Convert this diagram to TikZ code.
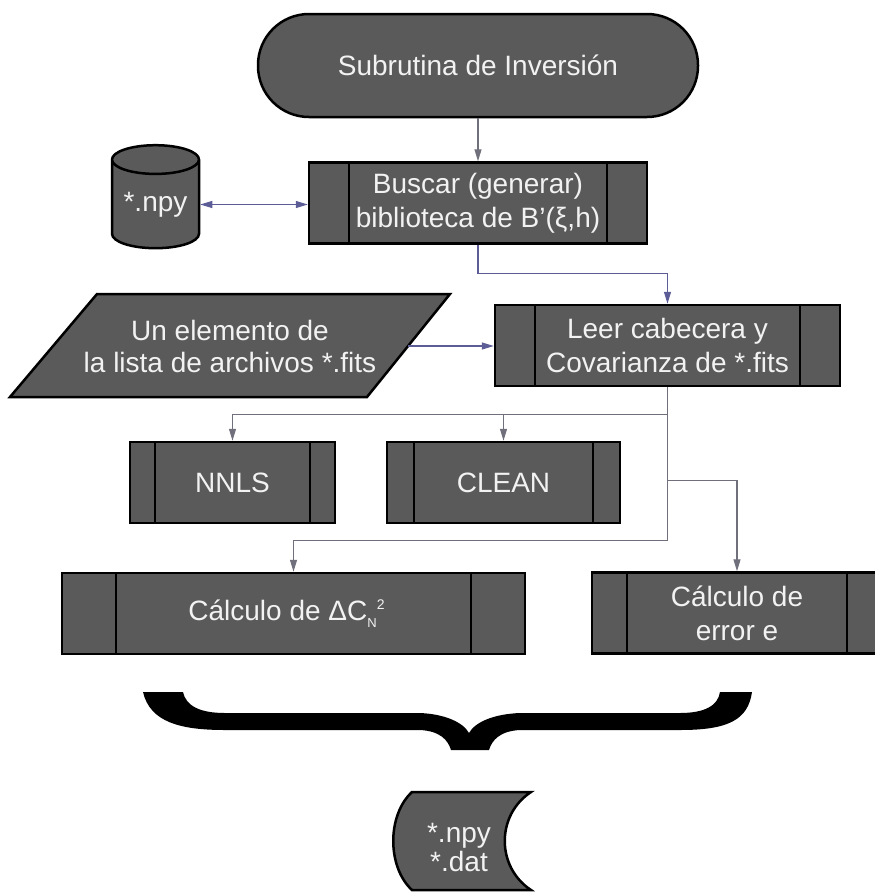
\documentclass[tikz,border=0pt]{standalone}
\usepackage{fontspec}
\setmainfont{Liberation Sans}
\usetikzlibrary{shapes.geometric, arrows.meta, positioning, calc}

\definecolor{boxGray}{RGB}{90,90,90}
\definecolor{boxText}{RGB}{242,242,242}
\definecolor{lineGray}{RGB}{112,112,125}
\definecolor{lineBlue}{RGB}{92,92,150}

\begin{document}
\begin{tikzpicture}[
		x=1pt, y=-1pt,
		font=\fontsize{28}{34}\selectfont,
		% Styles
		terminalBox/.style={draw=black, fill=boxGray, text=boxText, line width=2.5pt, rounded corners=51pt, minimum width=440pt, minimum height=103pt},
		subBox/.style={draw=black, fill=boxGray, text=boxText, line width=2.5pt, align=center, minimum height=81pt, inner sep=0pt,
			path picture={
				\draw[line width=2.5pt] ([xshift=#1]path picture bounding box.north west) -- ([xshift=#1]path picture bounding box.south west)
				([xshift=-#1]path picture bounding box.north east) -- ([xshift=-#1]path picture bounding box.south east);
		}},
		storeBox/.style={cylinder, shape border rotate=90, aspect=0.45, draw=black, fill=boxGray, text=boxText, line width=2.5pt, minimum width=87pt, minimum height=103pt, inner sep=0pt},
		shapeLine/.style={draw=black, fill=boxGray, line width=2.5pt},
		whiteText/.style={text=boxText, align=center, inner sep=0pt},
		flowArrow/.style={-{Triangle[length=12pt, width=7pt]}, line width=1.2pt, draw=#1},
		bothArrow/.style={{Triangle[length=12pt, width=7pt]}-{Triangle[length=12pt, width=7pt]}, line width=1.2pt, draw=#1},
		flowLine/.style={line width=1.2pt, draw=#1}
		]
		
		\useasboundingbox (0,0) rectangle (875,895);
		
		% =========================================================
		% 1. START AND LIBRARY
		% =========================================================
		\node[terminalBox] (Start) at (478,65.5) {Subrutina de Inversión};
		
		\node[subBox=40pt, minimum width=338pt] (Buscar) at (478,203) {Buscar (generar)\\biblioteca de B’(ξ,h)};
		\node[storeBox] (Npy) at (155.5,204.5) {*.npy};
		
		\draw[flowArrow=lineGray] (Start.south) -- (Buscar.north);
		\draw[bothArrow=lineBlue] (Npy.east) -- (Npy.east -| Buscar.west);
		
		% =========================================================
		% 2. READ FITS FILE
		% =========================================================
		\node[subBox=40pt, minimum width=345pt] (Leer) at (667.5,345.5) {Leer cabecera y\\Covarianza de *.fits};
		
		% parallelogram drawn round its text
		\coordinate (ListaC) at (230,346);
		\draw[shapeLine] ($(ListaC)+(-133,-52)$) -- ($(ListaC)+(220,-52)$) -- ($(ListaC)+(137,51)$) -- ($(ListaC)+(-220,51)$) -- cycle;
		\node[whiteText, font=\fontsize{28}{32}\selectfont] (Lista) at (ListaC) {Un elemento de\\la lista de archivos *.fits};
		\coordinate (ListaEast) at ($(ListaC)+(178,0)$);
		
		\draw[flowArrow=lineBlue] (Buscar.south) -- ++(0,29) -| (Leer.north);
		\draw[flowArrow=lineBlue] (ListaEast) -- (ListaEast -| Leer.west);
		
		% =========================================================
		% 3. INVERSION METHODS
		% =========================================================
		\node[subBox=25pt, minimum width=205pt] (NNLS) at (232.5,482.5) {NNLS};
		\node[subBox=27pt, minimum width=233pt] (CLEAN) at (503.5,482.5) {CLEAN};
		
		\coordinate (SplitA) at ($(Leer.south)+(0,27)$);
		\coordinate (SplitB) at ($(Leer.south)+(0,93)$);
		\coordinate (SplitC) at ($(Leer.south)+(0,153)$);
		
		\draw[flowArrow=lineGray] (Leer.south) -- (SplitA) -| (NNLS.north);
		\draw[flowArrow=lineGray] (SplitA) -| (CLEAN.north);
		
		% =========================================================
		% 4. ERROR ESTIMATES
		% =========================================================
		\node[subBox=54pt, minimum width=463pt] (DeltaC) at (293.5,613.5) {Cálculo de ΔC\raisebox{-7pt}{\fontsize{13}{13}\selectfont N}\raisebox{11pt}{\fontsize{14}{14}\selectfont 2}\hspace{14pt}};
		\node[subBox=35pt, minimum width=290pt] (ErrorE) at (737,613) {Cálculo de\\error e};
		
		\draw[flowLine=lineGray] (SplitA) -- (SplitC);
		\draw[flowArrow=lineGray] (SplitC) -| (DeltaC.north);
		\draw[flowArrow=lineGray] (SplitB) -| (ErrorE.north);
		
		% =========================================================
		% 5. BRACE AND OUTPUT FILES
		% =========================================================
		\fill[black] (143,692) .. controls (150,722) and (180,730) .. (225,730)
		-- (420,730) .. controls (440,731) and (448,740) .. (451,750)
		-- (489,750) .. controls (492,740) and (500,731) .. (520,730)
		-- (680,730) .. controls (728,730) and (748,720) .. (752,692)
		-- (720,692) .. controls (718,706) and (704,713) .. (680,713)
		-- (520,713) .. controls (494,714) and (475,722) .. (469,733)
		.. controls (463,722) and (444,714) .. (420,713)
		-- (225,713) .. controls (200,713) and (186,706) .. (183,692) -- cycle;
		
		\draw[shapeLine] (412,792) -- (531,792)
		.. controls (496,815) and (496,867) .. (531,890) -- (412,890)
		.. controls (387,867) and (387,815) .. cycle;
		\node[whiteText, font=\fontsize{28}{29}\selectfont] (Salida) at (459,847) {*.npy\\*.dat};
		
	\end{tikzpicture}
\end{document}
